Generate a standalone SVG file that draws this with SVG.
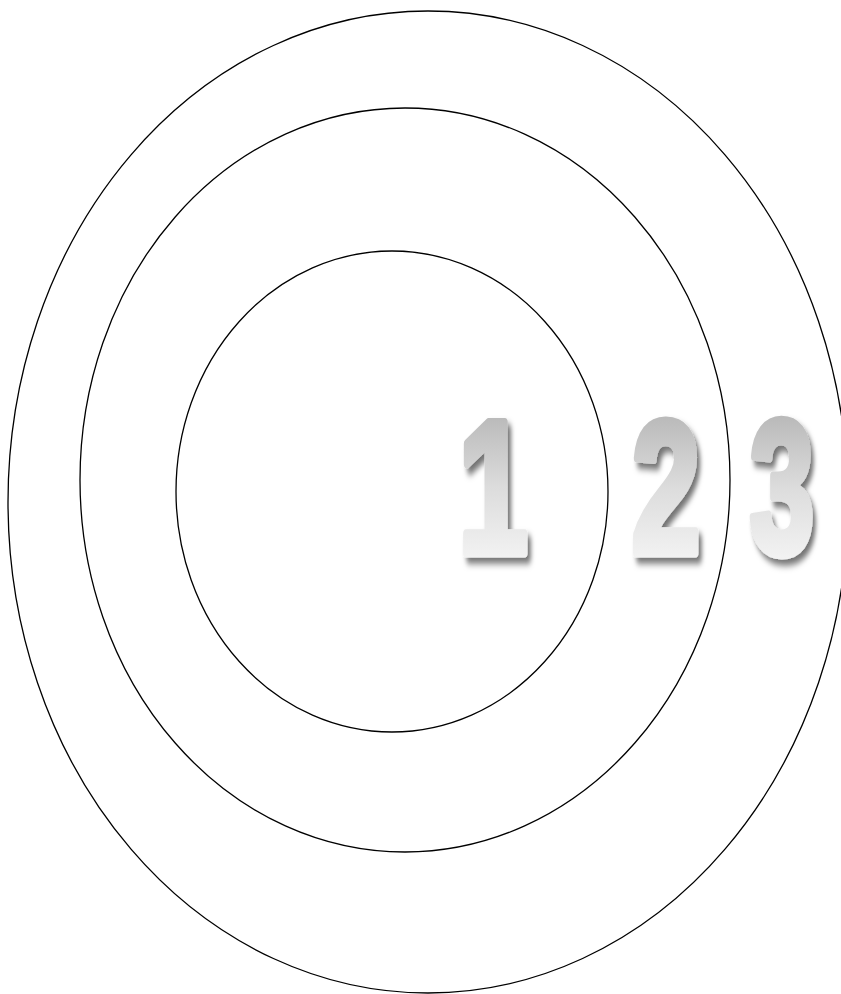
<svg xmlns="http://www.w3.org/2000/svg" width="841" height="994" viewBox="0 0 841 994">
<style>
.ring{fill:none;stroke:#000;stroke-width:1.3}
.dig{font-family:"Liberation Sans",Arial,sans-serif;font-weight:bold;font-size:190px;text-anchor:middle;fill:url(#g);stroke:url(#g);stroke-width:9;stroke-linejoin:round;filter:url(#sh)}
</style>
<defs>
<linearGradient id="g" x1="0" y1="0" x2="0" y2="1">
<stop offset="0" stop-color="#a9a9a9"/>
<stop offset="0.5" stop-color="#dcdcdc"/>
<stop offset="1" stop-color="#fdfdfd"/>
</linearGradient>
<filter id="sh" x="-30%" y="-30%" width="160%" height="160%">
<feDropShadow dx="5" dy="6" stdDeviation="3.5" flood-color="#000" flood-opacity="0.55"/>
</filter>
</defs>
<g id="ring3"><ellipse class="ring" cx="428" cy="502" rx="420" ry="491"/></g>
<g id="ring2"><ellipse class="ring" cx="405" cy="480" rx="325" ry="372"/></g>
<g id="ring1"><ellipse class="ring" cx="392" cy="491.5" rx="216" ry="240.5"/></g>
<g id="label1" transform="translate(493,553) scale(0.66,1)"><text class="dig" x="0" y="0">1</text></g>
<g id="label2" transform="translate(666,553) scale(0.65,1)"><text class="dig" x="0" y="0">2</text></g>
<g id="label3" transform="translate(782,553) scale(0.61,1)"><text class="dig" x="0" y="0">3</text></g>
</svg>
